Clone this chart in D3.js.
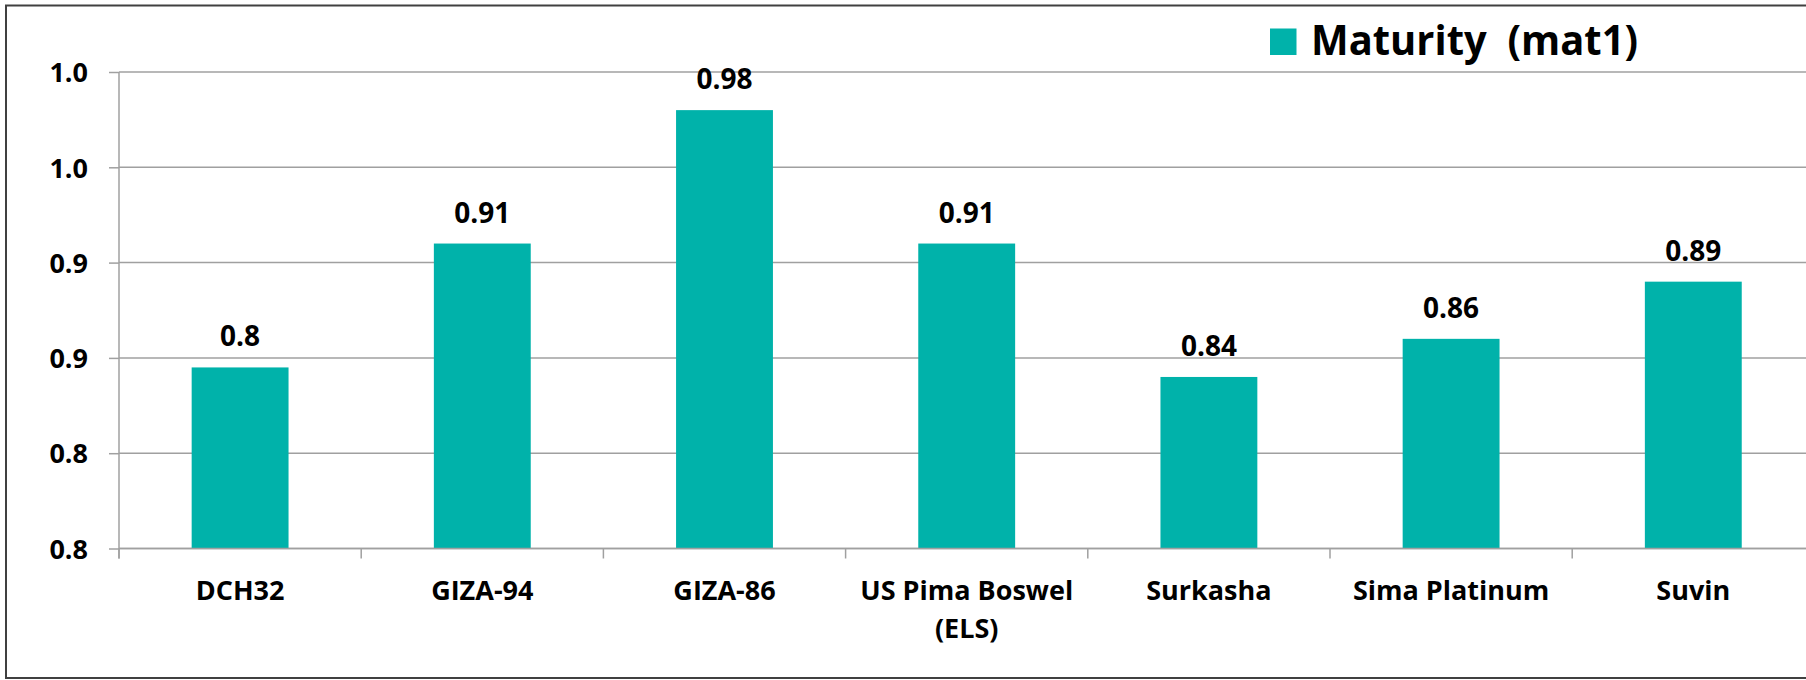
<!DOCTYPE html>
<html>
<head>
<meta charset="utf-8">
<script src="https://cdn.jsdelivr.net/npm/d3@7"></script>
<style>
  html, body { margin: 0; padding: 0; background: #fff; }
  svg { display: block; }
  text { font-family: "Open Sans", "DejaVu Sans", sans-serif; font-weight: bold; fill: #000; }
</style>
</head>
<body>
<svg id="chart" width="1806" height="680"></svg>
<script>
// ---- data ----
const categories = ["DCH32", "GIZA-94", "GIZA-86", "US Pima Boswel\n(ELS)", "Surkasha", "Sima Platinum", "Suvin"];
const values = [0.845, 0.91, 0.98, 0.91, 0.84, 0.86, 0.89];
const valueLabels = ["0.8", "0.91", "0.98", "0.91", "0.84", "0.86", "0.89"];
const yTickValues = [0.75, 0.80, 0.85, 0.90, 0.95, 1.00];
const yTickLabels = ["0.8", "0.8", "0.9", "0.9", "1.0", "1.0"];
const seriesName = "Maturity  (mat1)";

// ---- layout ----
const W = 1806, H = 680;
const plotLeft = 119, bandW = 242.2;
const plotRight = plotLeft + bandW * categories.length;
const plotTop = 72, plotBottom = 548.5;
const barColor = "#00B2AA";
const gridColor = "#A0A0A0";

const svg = d3.select("#chart");

// outer frame (right edge falls outside the picture)
svg.append("rect")
  .attr("x", 6).attr("y", 5.5)
  .attr("width", W + 20).attr("height", 672.5)
  .attr("fill", "none").attr("stroke", "#404040").attr("stroke-width", 2);

const x = d3.scaleBand().domain(categories).range([plotLeft, plotRight]).paddingInner(0).paddingOuter(0);
const y = d3.scaleLinear().domain([0.75, 1.0]).range([plotBottom, plotTop]);

// gridlines
svg.append("g").selectAll("line").data(yTickValues).join("line")
  .attr("x1", plotLeft).attr("x2", plotRight)
  .attr("y1", d => y(d)).attr("y2", d => y(d))
  .attr("stroke", gridColor).attr("stroke-width", 1.5);

// y axis
const yAxis = d3.axisLeft(y)
  .tickValues(yTickValues)
  .tickFormat((d, i) => yTickLabels[i])
  .tickSize(10).tickPadding(21);
const gy = svg.append("g").attr("transform", `translate(${plotLeft},0)`).call(yAxis);
gy.select(".domain").remove();
gy.selectAll(".tick line").attr("stroke", gridColor).attr("stroke-width", 1.5);
gy.selectAll(".tick text")
  .attr("font-size", 27).attr("font-family", null).attr("fill", "#000")
  .attr("dy", "0.36em");

// y axis line
svg.append("line")
  .attr("x1", plotLeft).attr("x2", plotLeft)
  .attr("y1", plotTop).attr("y2", plotBottom + 10)
  .attr("stroke", gridColor).attr("stroke-width", 1.5);

// category ticks at band boundaries
const boundaries = categories.map(c => x(c)).concat([plotRight]);
svg.append("g").selectAll("line").data(boundaries).join("line")
  .attr("x1", d => d).attr("x2", d => d)
  .attr("y1", plotBottom).attr("y2", plotBottom + 10)
  .attr("stroke", gridColor).attr("stroke-width", 1.5);

// bars
const barW = x.bandwidth() * 0.4;
svg.append("g").selectAll("rect").data(values).join("rect")
  .attr("x", (d, i) => x(categories[i]) + (x.bandwidth() - barW) / 2)
  .attr("width", barW)
  .attr("y", d => y(d))
  .attr("height", d => plotBottom - y(d))
  .attr("fill", barColor);

// baseline on top of bars
svg.append("line")
  .attr("x1", plotLeft).attr("x2", plotRight)
  .attr("y1", plotBottom).attr("y2", plotBottom)
  .attr("stroke", gridColor).attr("stroke-width", 1.5);

// value labels
svg.append("g").selectAll("text").data(values).join("text")
  .attr("x", (d, i) => x(categories[i]) + x.bandwidth() / 2)
  .attr("y", d => y(d) - 21)
  .attr("text-anchor", "middle")
  .attr("font-size", 28)
  .text((d, i) => valueLabels[i]);

// category labels
const catG = svg.append("g").selectAll("text").data(categories).join("text")
  .attr("x", d => x(d) + x.bandwidth() / 2)
  .attr("y", 600)
  .attr("text-anchor", "middle")
  .attr("font-size", 27);
catG.each(function(d) {
  const t = d3.select(this);
  const cx = x(d) + x.bandwidth() / 2;
  d.split("\n").forEach((line, k) => {
    t.append("tspan").attr("x", cx).attr("dy", k === 0 ? 0 : 38).text(line);
  });
});

// legend
svg.append("rect")
  .attr("x", 1270).attr("y", 28.5).attr("width", 26.5).attr("height", 26.5)
  .attr("fill", barColor);
svg.append("text")
  .attr("x", 1311).attr("y", 55)
  .attr("font-size", 42)
  .attr("textLength", 327).attr("lengthAdjust", "spacingAndGlyphs")
  .style("white-space", "pre")
  .text(seriesName);
</script>
</body>
</html>
